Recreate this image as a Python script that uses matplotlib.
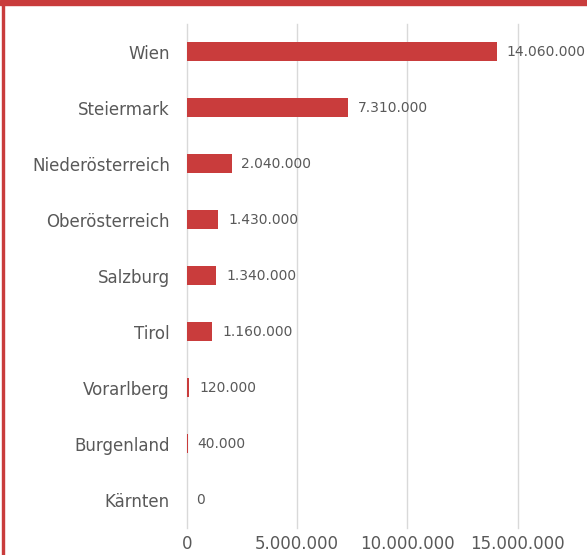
import matplotlib.pyplot as plt
from matplotlib.patches import Rectangle

# Bundesländer und Werte (von oben nach unten)
regions = ["Wien", "Steiermark", "Niederösterreich", "Oberösterreich", "Salzburg",
           "Tirol", "Vorarlberg", "Burgenland", "Kärnten"]
values = [14060000, 7310000, 2040000, 1430000, 1340000, 1160000, 120000, 40000, 0]
xticks = [0, 5000000, 10000000, 15000000]

red = "#C93C3C"
grey = "#595959"

def fmt(v):
    return "{:,}".format(v).replace(",", ".")

fig = plt.figure(figsize=(5.87, 5.55), dpi=100)
ax = fig.add_axes([0.318, 0.049, 0.564, 0.908])

pos = list(range(len(regions)))
ax.barh(pos, values, height=0.34, color=red, zorder=3)
for p, v in zip(pos, values):
    ax.annotate(fmt(v), (v, p), xytext=(7, 0), textcoords="offset points",
                va="center", ha="left", fontsize=10, color=grey, zorder=4)

ax.set_ylim(len(regions) - 0.5, -0.5)
ax.set_xlim(0, 15000000)
ax.set_yticks(pos)
ax.set_yticklabels(regions, fontsize=12, color=grey)
ax.set_xticks(xticks)
ax.set_xticklabels([fmt(t) for t in xticks], fontsize=12, color=grey)
ax.tick_params(axis="y", length=0, pad=12)
ax.tick_params(axis="x", length=0, pad=5)
ax.grid(axis="x", color="#D9D9D9", linewidth=1, zorder=0, clip_on=False)
for s in ax.spines.values():
    s.set_visible(False)
for gl in ax.get_xgridlines():
    gl.set_clip_on(False)

# roter Rahmen oben und links
fig.patches.append(Rectangle((0, 0.991), 1, 0.009, transform=fig.transFigure, color=red))
fig.patches.append(Rectangle((0.004, 0), 0.003, 1, transform=fig.transFigure, color=red))

fig.savefig("out.png", dpi=100)
